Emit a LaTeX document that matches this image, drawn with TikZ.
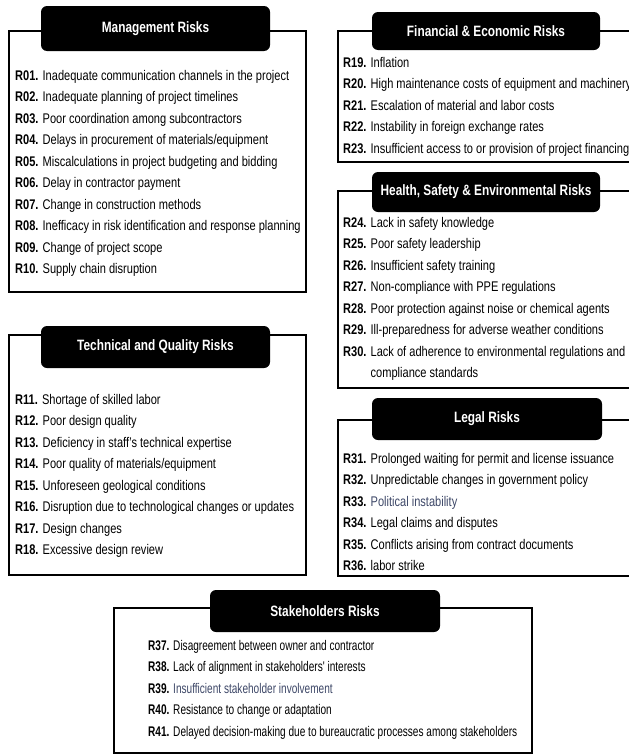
\documentclass[tikz,border=0pt]{standalone}
\usepackage{fontspec}
\setmainfont[FakeStretch=0.79]{Liberation Sans}
\newfontfamily\stakefont[FakeStretch=0.72]{Liberation Sans}
\usepackage{xcolor}
\usepackage{tikz}
\usetikzlibrary{positioning, shadows}
\definecolor{slateblue}{RGB}{62,72,104}
\tikzstyle{riskframe} = [draw=black, line width=2pt, fill=white, rectangle, anchor=north west, inner sep=0pt, drop shadow={shadow xshift=1.3pt, shadow yshift=-1.3pt, fill=black!45, opacity=1}]
\tikzstyle{riskhead} = [rectangle, rounded corners=6pt, fill=black, text=white, inner sep=0pt, minimum width=229pt, minimum height=42pt, font=\fontsize{15}{18}\selectfont\bfseries]
\tikzstyle{risklist} = [anchor=base west, align=left, inner sep=0pt, font=\fontsize{14}{21.5}\selectfont]

\begin{document}
\begin{tikzpicture}[x=1pt, y=-1pt]
    \useasboundingbox [fill=white] (0,0) rectangle (629,755);
    % frames
    \node (mgmt) [riskframe, minimum width=297pt, minimum height=261pt] at (8,30) {};
    \node (tech) [riskframe, minimum width=297pt, minimum height=240pt] at (8,334) {};
    \node (fin) [riskframe, minimum width=310pt, minimum height=131pt] at (337,30) {};
    \node (hse) [riskframe, minimum width=310pt, minimum height=197pt] at (337,190) {};
    \node (legal) [riskframe, minimum width=310pt, minimum height=156pt] at (337,419) {};
    \node (stake) [riskframe, minimum width=418pt, minimum height=145pt] at (113,607) {};
    % titles
    \node (mgmthead) [riskhead, minimum height=45pt] at (155.5,28.5) {Management Risks};
    \node (techhead) [riskhead] at (155.5,347) {Technical and Quality Risks};
    \node (finhead) [riskhead, minimum width=228pt, minimum height=38pt] at (486,31) {Financial \& Economic Risks};
    \node (hsehead) [riskhead, minimum width=228pt, minimum height=40pt] at (486,192) {Health, Safety \& Environmental Risks};
    \node (legalhead) [riskhead, minimum width=230pt] at (487,419) {Legal Risks};
    \node (stakehead) [riskhead, minimum width=230pt] at (325,611) {Stakeholders Risks};
    % lists (base = baseline of the last line)
    \node (mgmtlist) [risklist] at (15,273.5) {\textbf{R01.} Inadequate communication channels in the project\\
        \textbf{R02.} Inadequate planning of project timelines\\
        \textbf{R03.} Poor coordination among subcontractors\\
        \textbf{R04.} Delays in procurement of materials/equipment\\
        \textbf{R05.} Miscalculations in project budgeting and bidding\\
        \textbf{R06.} Delay in contractor payment\\
        \textbf{R07.} Change in construction methods\\
        \textbf{R08.} Inefficacy in risk identification and response planning\\
        \textbf{R09.} Change of project scope\\
        \textbf{R10.} Supply chain disruption};
    \node (techlist) [risklist] at (15,554.5) {\textbf{R11.} Shortage of skilled labor\\
        \textbf{R12.} Poor design quality\\
        \textbf{R13.} Deficiency in staff's technical expertise\\
        \textbf{R14.} Poor quality of materials/equipment\\
        \textbf{R15.} Unforeseen geological conditions\\
        \textbf{R16.} Disruption due to technological changes or updates\\
        \textbf{R17.} Design changes\\
        \textbf{R18.} Excessive design review};
    \node (finlist) [risklist] at (343,153) {\textbf{R19.} Inflation\\
        \textbf{R20.} High maintenance costs of equipment and machinery\\
        \textbf{R21.} Escalation of material and labor costs\\
        \textbf{R22.} Instability in foreign exchange rates\\
        \textbf{R23.} Insufficient access to or provision of project financing};
    \node (hselist) [risklist] at (343,377.5) {\textbf{R24.} Lack in safety knowledge\\
        \textbf{R25.} Poor safety leadership\\
        \textbf{R26.} Insufficient safety training\\
        \textbf{R27.} Non-compliance with PPE regulations\\
        \textbf{R28.} Poor protection against noise or chemical agents\\
        \textbf{R29.} Ill-preparedness for adverse weather conditions\\
        \textbf{R30.} Lack of adherence to environmental regulations and\\
        \phantom{\textbf{R30.} }compliance standards};
    \node (legallist) [risklist] at (343,570.5) {\textbf{R31.} Prolonged waiting for permit and license issuance\\
        \textbf{R32.} Unpredictable changes in government policy\\
        \textbf{R33.} \textcolor{slateblue}{Political instability}\\
        \textbf{R34.} Legal claims and disputes\\
        \textbf{R35.} Conflicts arising from contract documents\\
        \textbf{R36.} labor strike};
    \node (stakelist) [risklist, font=\fontsize{14}{21.5}\selectfont\stakefont] at (148,736) {\textbf{R37.} Disagreement between owner and contractor\\
        \textbf{R38.} Lack of alignment in stakeholders' interests\\
        \textbf{R39.} \textcolor{slateblue}{Insufficient stakeholder involvement}\\
        \textbf{R40.} Resistance to change or adaptation\\
        \textbf{R41.} Delayed decision-making due to bureaucratic processes among stakeholders};
\end{tikzpicture}
\end{document}
